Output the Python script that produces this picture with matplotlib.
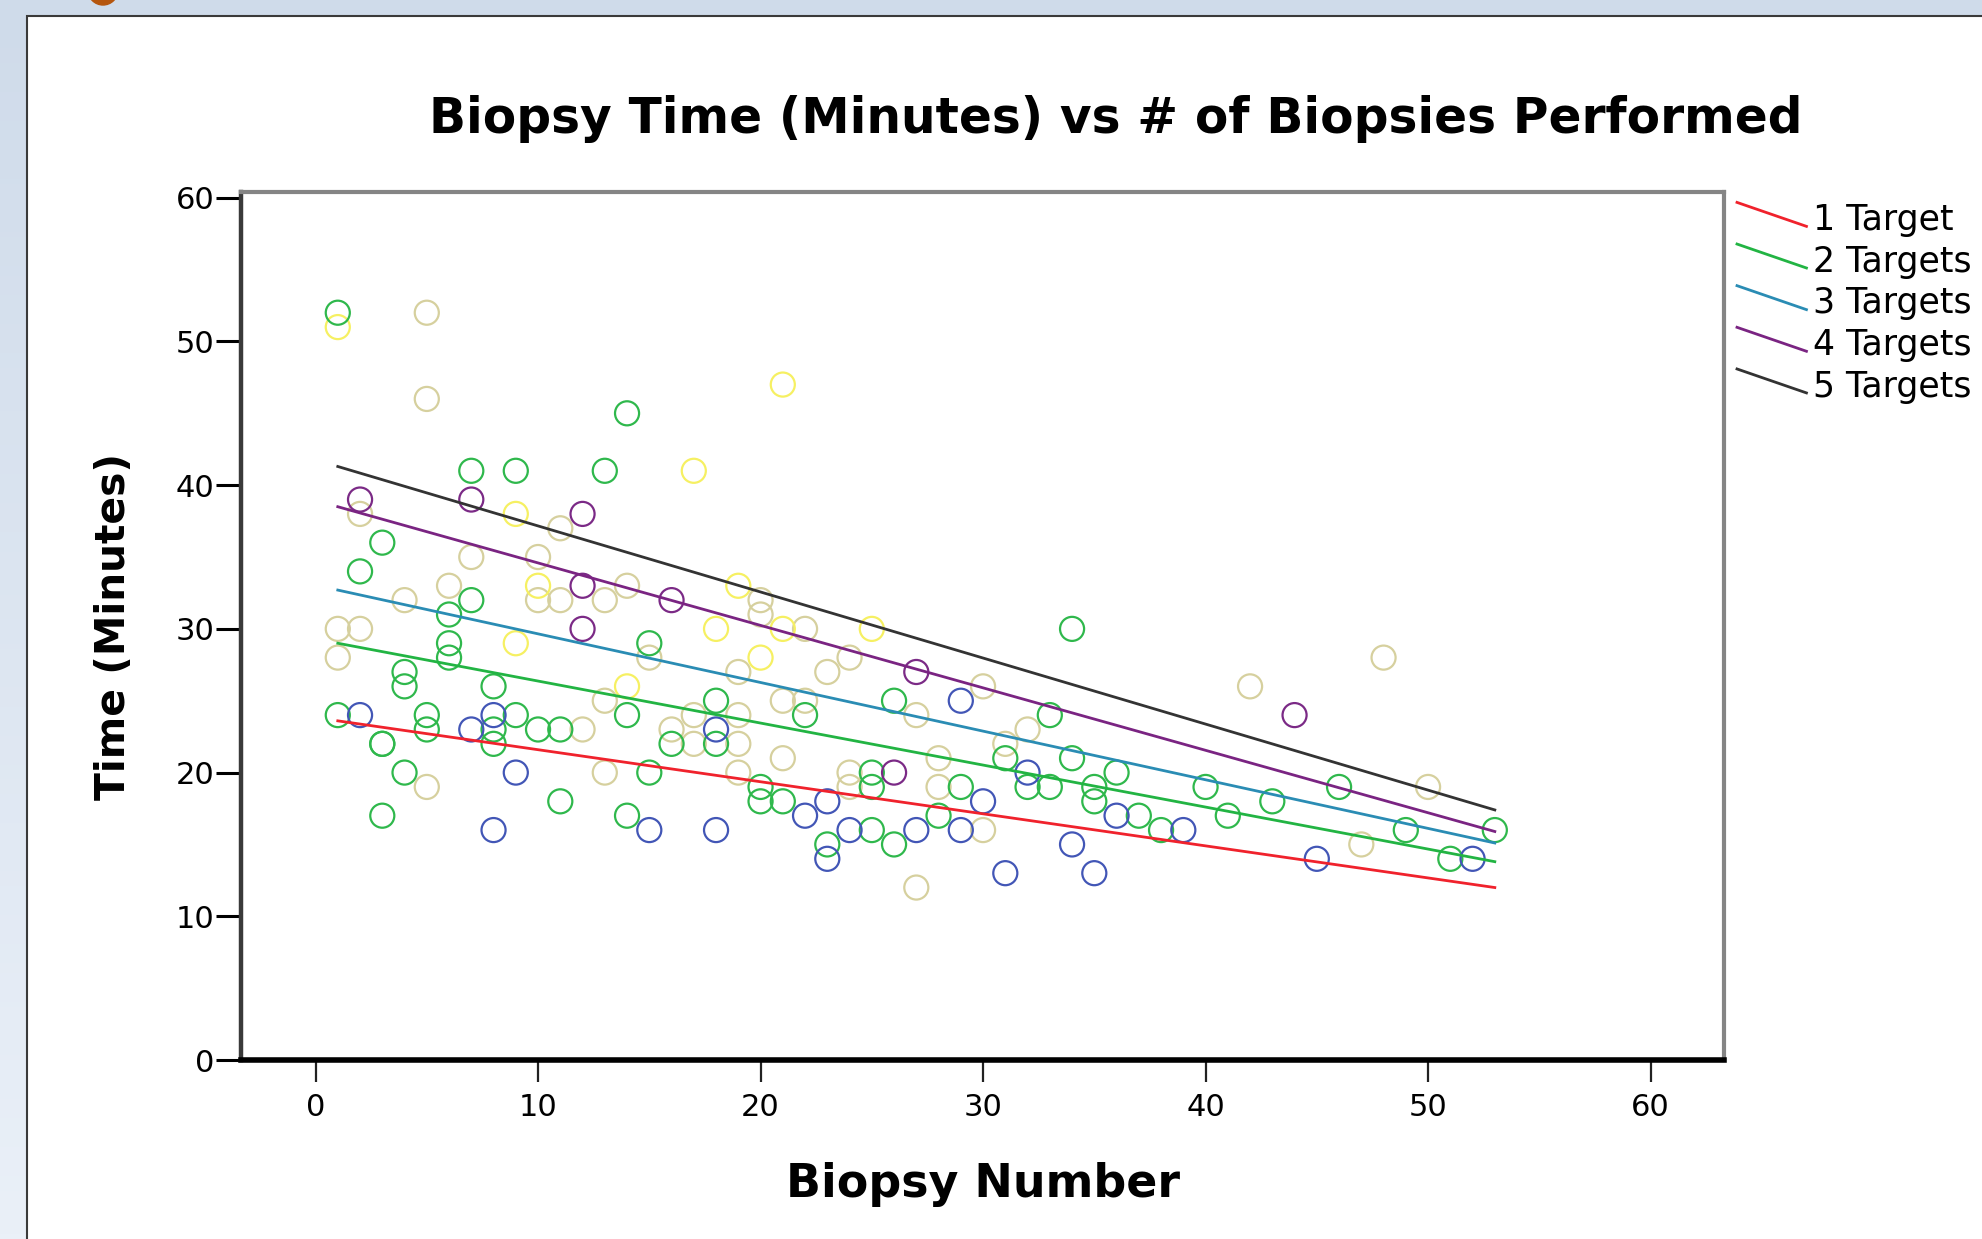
"""
Biopsy time vs biopsy number, SPSS style scatter with fit lines per target count.
"""
import numpy as np
import matplotlib
matplotlib.use('Agg')
import matplotlib.pyplot as plt
from matplotlib.lines import Line2D
from matplotlib.patches import Rectangle, Ellipse
from matplotlib.legend_handler import HandlerBase

plt.rcParams['font.family'] = ['DejaVu Sans']

# ============================================================
# DATA
# ============================================================
blue_x = [2, 7, 8, 8, 9, 15, 18, 18, 22, 23, 23, 24, 27, 29, 29, 30, 31, 32, 34, 35, 36, 39, 45, 52]
blue_y = [24, 23, 24, 16, 20, 16, 23, 16, 17, 18, 14, 16, 16, 25, 16, 18, 13, 20, 15, 13, 17, 16, 14, 14]

green_x = [1, 1, 2, 3, 3, 3, 3, 4, 4, 4, 5, 5, 6, 6, 6, 7, 7, 8, 8, 8, 9, 9, 10, 11, 11,
           13, 14, 14, 14, 15, 15, 16, 18, 18, 20, 20, 21, 22, 23, 25, 25, 25, 26, 26,
           28, 29, 31, 32, 33, 33, 34, 34, 35, 35, 36, 37, 38, 40, 41, 43, 46, 49, 51, 53]
green_y = [52, 24, 34, 36, 22, 22, 17, 27, 26, 20, 24, 23, 31, 29, 28, 41, 32, 26, 23, 22, 41, 24, 23, 23, 18,
           41, 45, 24, 17, 29, 20, 22, 25, 22, 19, 18, 18, 24, 15, 20, 19, 16, 25, 15,
           17, 19, 21, 19, 24, 19, 30, 21, 19, 18, 20, 17, 16, 19, 17, 18, 19, 16, 14, 16]

tan_x = [1, 1, 2, 2, 4, 5, 5, 5, 6, 7, 10, 10, 11, 11, 12, 13, 13, 13, 14, 15, 16, 17, 17,
         19, 19, 19, 19, 20, 20, 21, 21, 22, 22, 23, 24, 24, 24, 27, 27, 28, 28, 30, 30,
         31, 32, 42, 47, 48, 50]
tan_y = [30, 28, 38, 30, 32, 52, 46, 19, 33, 35, 35, 32, 37, 32, 23, 32, 25, 20, 33, 28, 23, 24, 22,
         27, 24, 22, 20, 32, 31, 25, 21, 30, 25, 27, 28, 20, 19, 24, 12, 21, 19, 26, 16,
         22, 23, 26, 15, 28, 19]

yellow_x = [1, 9, 9, 10, 14, 17, 18, 19, 20, 21, 21, 25]
yellow_y = [51, 38, 29, 33, 26, 41, 30, 33, 28, 47, 30, 30]

purple_x = [2, 7, 12, 12, 12, 16, 26, 27, 44]
purple_y = [39, 39, 38, 33, 30, 32, 20, 27, 24]

# fit lines, value at the first and last biopsy
fit_x = [1, 53]
fit_1 = [23.6, 12.0]
fit_2 = [29.0, 13.8]
fit_3 = [32.7, 15.1]
fit_4 = [38.5, 15.9]
fit_5 = [41.3, 17.4]
fit_labels = ['1 Target', '2 Targets', '3 Targets', '4 Targets', '5 Targets']

x_ticks = [0, 10, 20, 30, 40, 50, 60]
y_ticks = [0, 10, 20, 30, 40, 50, 60]

# ============================================================
# FIGURE + SLIDE BACKGROUND
# ============================================================
W, H = 1982, 1239
fig = plt.figure(figsize=(W / 100, H / 100), dpi=100)

bg = fig.add_axes([0, 0, 1, 1], zorder=-10)
grad = np.linspace(0, 1, 256).reshape(-1, 1)
bg.imshow(grad, aspect='auto', cmap=matplotlib.colors.LinearSegmentedColormap.from_list(
    'slide', ['#cfdbea', '#eaf0f8']), extent=[0, 1, 0, 1], origin='upper')
bg.set_xlim(0, 1)
bg.set_ylim(0, 1)
bg.axis('off')
bg.add_patch(Ellipse((103 / W, 1 + 10 / H), 30 / W, 30 / H, color='#b5560e', clip_on=False))
bg.add_patch(Rectangle((27 / W, -0.01), 1, 1 - 16 / H + 0.01, facecolor='white',
                       edgecolor='#3a3a3a', linewidth=1.5))

# ============================================================
# MAIN PLOT
# ============================================================
ax = fig.add_axes([241 / W, 1 - 1060 / H, (1724 - 241) / W, (1060 - 192) / H])
ax.set_facecolor('white')

marker_kw = dict(s=300, facecolors='none', linewidths=1.6, zorder=3)
ax.scatter(tan_x, tan_y, edgecolors='#d6d09e', **marker_kw)
ax.scatter(yellow_x, yellow_y, edgecolors='#f6f062', **marker_kw)
ax.scatter(green_x, green_y, edgecolors='#2fb84c', **marker_kw)
ax.scatter(blue_x, blue_y, edgecolors='#4256b6', **marker_kw)
ax.scatter(purple_x, purple_y, edgecolors='#7b2a86', **marker_kw)

line_colors = ['#f0222c', '#22b443', '#2a8cb4', '#7a2482', '#333333']
fits = [fit_1, fit_2, fit_3, fit_4, fit_5]
handles = []
for fy, col, lab in zip(fits, line_colors, fit_labels):
    ln, = ax.plot(fit_x, fy, color=col, lw=2.0, zorder=4, label=lab)
    handles.append(ln)

ax.set_xlim(-3.35, 63.3)
ax.set_ylim(0, 60.4)
ax.set_xticks(x_ticks)
ax.set_yticks(y_ticks)
ax.tick_params(axis='y', direction='out', length=18, width=2.2, color='black',
               labelsize=22, pad=1)
ax.tick_params(axis='x', direction='out', length=16, width=1.6, color='#222222',
               labelsize=22, pad=8)

ax.spines['left'].set_color('#3a3a3a')
ax.spines['left'].set_linewidth(3.2)
ax.spines['bottom'].set_color('black')
ax.spines['bottom'].set_linewidth(4)
for s in ['top', 'right']:
    ax.spines[s].set_color('#858585')
    ax.spines[s].set_linewidth(3)

ax.set_xlabel('Biopsy Number', fontsize=33, fontweight='bold', va='center')
ax.set_ylabel('Time (Minutes)', fontsize=29.3, fontweight='bold', va='center', ha='center')
ax.xaxis.set_label_coords(0.5, -0.143)
ax.yaxis.set_label_coords(-0.0856, 0.5)

fig.text(1116 / W, 1 - 119 / H, 'Biopsy Time (Minutes) vs # of Biopsies Performed',
         ha='center', va='center', fontsize=35, fontweight='bold')


# legend with slanted line samples, like SPSS
class SlantHandler(HandlerBase):
    def create_artists(self, legend, orig_handle, xdescent, ydescent,
                       width, height, fontsize, trans):
        yc = -ydescent + height / 2 + 0.1 * fontsize
        drop = 0.69 * fontsize
        line = Line2D([-xdescent, -xdescent + width], [yc + drop / 2, yc - drop / 2],
                      color=orig_handle.get_color(), lw=orig_handle.get_linewidth(),
                      transform=trans)
        return [line]


fig.legend(handles=handles, loc='upper left', bbox_to_anchor=(1737 / W, 1 - 203 / H),
           frameon=False, fontsize=25, borderpad=0, borderaxespad=0,
           handlelength=2.0, handleheight=0.7, handletextpad=0.2, labelspacing=0.22,
           handler_map={Line2D: SlantHandler()})

plt.savefig('out.png', dpi=100)
plt.close()
